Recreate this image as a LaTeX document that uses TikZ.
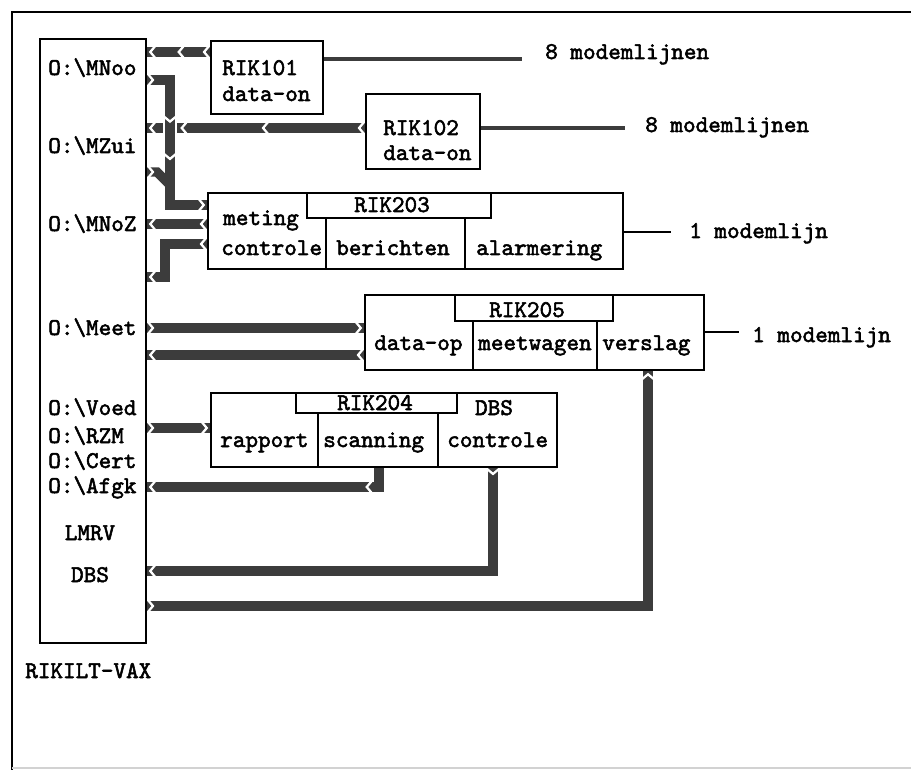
\documentclass[tikz,border=0pt]{standalone}
\usepackage{fontspec}
\newfontfamily\vtfont[FakeBold=2.2]{lmmono10-regular.otf}
\usetikzlibrary{fit,decorations.markings}
\definecolor{bandgray}{RGB}{60,60,60}
\begin{document}
\begin{tikzpicture}[x=0.75pt,y=-0.75pt,
  box/.style={draw=black, line width=1.4pt, inner sep=0pt},
  lbl/.style={font=\vtfont\bfseries\fontsize{18}{20}\selectfont, inner sep=0pt, text=black},
  band/.style={draw=bandgray, line width=7pt},
  chevat/.style={postaction={decorate, decoration={markings, mark=at position #1 with {\draw[white, line width=1.7pt] (-3pt,-4.8pt) -- (1pt,0pt) -- (-3pt,4.8pt);}}}},
  gap/.style={preaction={draw=white, line width=11pt}},
  modem/.style={draw=bandgray, line width=3pt},
  thinmodem/.style={draw=black, line width=2pt}
]
\useasboundingbox (0,0) rectangle (911,770);
% frame
\draw[line width=2pt] (12,770) -- (12,12) -- (911,12);
\draw[gray!35, line width=1pt] (12,768) -- (911,768);

% box geometry (drawn later, positions fixed now)
\path
  node[fit={(40,39) (146,643)}, inner sep=0pt] (vax) {}
  node[fit={(211,41) (323,114)}, inner sep=0pt] (rik101) {}
  node[fit={(366,94) (480,169)}, inner sep=0pt] (rik102) {}
  node[fit={(208,193) (623,269)}, inner sep=0pt] (rik203) {}
  node[fit={(307,193) (491,218)}, inner sep=0pt] (tab203) {}
  node[fit={(365,295) (704,370)}, inner sep=0pt] (rik205) {}
  node[fit={(455,295) (613,321)}, inner sep=0pt] (tab205) {}
  node[fit={(211,393) (557,467)}, inner sep=0pt] (rik204) {}
  node[fit={(296,393) (457,413)}, inner sep=0pt] (tab204) {};

% connectors
\draw[band, chevat=4pt, chevat=23pt, chevat=-4pt] (rik101.west |- 0,52) -- (vax.east |- 0,52);
\draw[band, chevat=4pt, chevat=76pt, chevat=137pt, chevat=-4pt] (rik102.west |- 0,128) -- (vax.east |- 0,128);
\draw[band, gap, chevat=4pt, chevat=48pt, chevat=76pt, chevat=-4pt] (vax.east |- 0,80) -- (170,80) -- (170,205) -- (rik203.west |- 0,205);
\draw[band, chevat=4pt] (vax.east |- 0,172) -- (157,172) -- (170,185);
\draw[band, chevat=4pt, chevat=-4pt] (rik203.west |- 0,224) -- (vax.east |- 0,224);
\draw[band, chevat=4pt, chevat=-4pt] (rik203.west |- 0,244) -- (165,244) -- (165,277) -- (vax.east |- 0,277);
\draw[band, chevat=4pt, chevat=-4pt] (vax.east |- 0,328) -- (rik205.west |- 0,328);
\draw[band, chevat=4pt, chevat=-4pt] (rik205.west |- 0,355) -- (vax.east |- 0,355);
\draw[band, chevat=4pt, chevat=-4pt] (vax.east |- 0,428) -- (rik204.west |- 0,428);
\draw[band, chevat=23pt, chevat=-4pt] (rik204.south -| 379,0) -- (379,487) -- (vax.east |- 0,487);
\draw[band, chevat=4pt, chevat=-4pt] (rik204.south -| 493,0) -- (493,571) -- (vax.east |- 0,571);
\draw[band, chevat=4pt, chevat=-4pt] (vax.east |- 0,606) -- (648,606) -- (rik205.south -| 648,0);

% modem lines
\coordinate (m101) at (522,59);
\coordinate (m102) at (625,128);
\coordinate (m203) at (671,232);
\coordinate (m205) at (739,332);
\draw[modem] (rik101.east |- m101) -- (m101);
\draw[modem] (rik102.east |- m102) -- (m102);
\draw[thinmodem] (rik203.east |- m203) -- (m203);
\draw[thinmodem] (rik205.east |- m205) -- (m205);

% boxes
\foreach \b in {vax,rik101,rik102,rik203,tab203,rik205,tab205,rik204,tab204}
  \draw[box] (\b.north west) rectangle (\b.south east);
\draw[box] (tab203.south -| 326,0) -- (rik203.south -| 326,0);
\draw[box] (tab203.south -| 465,0) -- (rik203.south -| 465,0);
\draw[box] (tab205.south -| 473,0) -- (rik205.south -| 473,0);
\draw[box] (tab205.south -| 597,0) -- (rik205.south -| 597,0);
\draw[box] (tab204.south -| 318,0) -- (rik204.south -| 318,0);
\draw[box] (tab204.south -| 438,0) -- (rik204.south -| 438,0);

% VAX labels
\node[lbl, anchor=base west] (l1) at (48,75) {O:\textbackslash MNoo};
\node[lbl, anchor=base west] (l2) at (48,153) {O:\textbackslash MZui};
\node[lbl, anchor=base west] (l3) at (48,231) {O:\textbackslash MNoZ};
\node[lbl, anchor=base west] (l4) at (48,335) {O:\textbackslash Meet};
\node[lbl, anchor=base west] (l5) at (48,415) {O:\textbackslash Voed};
\node[lbl, anchor=base west] (l6) at (48,443) {O:\textbackslash RZM};
\node[lbl, anchor=base west] (l7) at (48,468) {O:\textbackslash Cert};
\node[lbl, anchor=base west] (l8) at (48,493) {O:\textbackslash Afgk};
\node[lbl, anchor=base] (l9) at (90,540) {LMRV};
\node[lbl, anchor=base] (l10) at (90,582) {DBS};
\node[lbl, anchor=base west] (vaxname) at (25,678) {RIKILT-VAX};

% box texts
\node[lbl, anchor=base west] (t101a) at (222,75) {RIK101};
\node[lbl, anchor=base west] (t101b) at (222,101) {data-on};
\node[lbl, anchor=base west] (t102a) at (383,135) {RIK102};
\node[lbl, anchor=base west] (t102b) at (383,160) {data-on};
\node[lbl, anchor=base] (t203) at (392,212) {RIK203};
\node[lbl, anchor=base west] (t203a) at (223,225) {meting};
\node[lbl, anchor=base west] (t203b) at (221,255) {controle};
\node[lbl, anchor=base west] (t203c) at (336,255) {berichten};
\node[lbl, anchor=base west] (t203d) at (476,255) {alarmering};
\node[lbl, anchor=base] (t205) at (527,317) {RIK205};
\node[lbl, anchor=base west] (t205a) at (374,350) {data-op};
\node[lbl, anchor=base west] (t205b) at (478,350) {meetwagen};
\node[lbl, anchor=base west] (t205c) at (602,350) {verslag};
\node[lbl, anchor=base] (t204) at (375,410) {RIK204};
\node[lbl, anchor=base] (t204d) at (494,415) {DBS};
\node[lbl, anchor=base west] (t204a) at (220,447) {rapport};
\node[lbl, anchor=base west] (t204b) at (323,447) {scanning};
\node[lbl, anchor=base west] (t204c) at (447,447) {controle};

% modem texts
\node[lbl, anchor=base west] (n101) at (545,59) {8 modemlijnen};
\node[lbl, anchor=base west] (n102) at (645,132) {8 modemlijnen};
\node[lbl, anchor=base west] (n203) at (689,238) {1 modemlijn};
\node[lbl, anchor=base west] (n205) at (752,342) {1 modemlijn};
\end{tikzpicture}
\end{document}
